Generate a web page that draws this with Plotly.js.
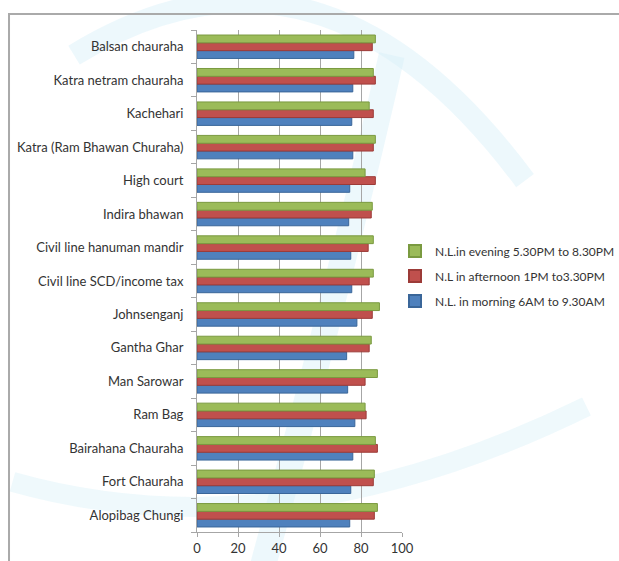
<!DOCTYPE html>
<html>
<head>
<meta charset="utf-8">
<script src="https://cdn.plot.ly/plotly-3.0.1.min.js"></script>
<style>html,body{margin:0;padding:0;background:#fff;}#chart{width:619px;height:561px;}</style>
</head>
<body>
<div id="chart"></div>
<script>
// Categories listed bottom to top
const categories = [
  "Alopibag Chungi", "Fort Chauraha", "Bairahana Chauraha", "Ram Bag", "Man Sarowar",
  "Gantha Ghar", "Johnsenganj", "Civil line SCD/income tax", "Civil line hanuman mandir",
  "Indira bhawan", "High court", "Katra (Ram Bhawan Churaha)", "Kachehari",
  "Katra netram chauraha", "Balsan chauraha"
];
const morning   = [74.5, 75, 76, 77, 73.5, 73, 78, 75.5, 75, 74, 74.5, 76, 75.5, 76, 76.5];
const afternoon = [86.5, 86, 88, 82.5, 82, 84, 85.5, 84, 83.5, 85, 87, 86, 86, 87, 85.5];
const evening   = [88, 86.5, 87, 82, 88, 85, 89, 86, 86, 85.5, 82, 87, 84, 86, 87];
const seriesNames = ["N.L. in morning 6AM to 9.30AM", "N.L in afternoon 1PM to3.30PM", "N.L.in evening 5.30PM to 8.30PM"];
const xTicks = [0, 20, 40, 60, 80, 100];

const colors = ["#4F81BD", "#C0504D", "#9BBB59"];
const lines = ["#3A6699", "#9C3B38", "#7A9A40"];
const vals = [morning, afternoon, evening];

const traces = vals.map((v, i) => ({
  type: "bar", orientation: "h",
  x: v, y: categories, name: seriesNames[i],
  legendgroup: "g" + i, legendrank: 3 - i,
  marker: {color: colors[i], line: {color: lines[i], width: 1}},
  hoverinfo: "x+y"
}));

const layout = {
  width: 619, height: 561,
  margin: {l: 197, r: 217, t: 30, b: 29, pad: 0, autoexpand: false},
  paper_bgcolor: "#ffffff", plot_bgcolor: "rgba(0,0,0,0)",
  font: {family: "Lato, 'Open Sans', sans-serif", size: 13, color: "#333"},
  barmode: "group", bargap: 0.3, bargroupgap: 0,
  xaxis: {
    range: [0, 100], tickvals: xTicks, ticktext: xTicks.map(String),
    showgrid: true, gridcolor: "#a6a6a6", gridwidth: 1,
    zeroline: false, showline: true, linecolor: "#a6a6a6", mirror: false,
    ticks: "outside", ticklen: 4, tickcolor: "#a6a6a6",
    tickfont: {size: 13, color: "#333"}, fixedrange: true, automargin: false
  },
  yaxis: {
    type: "category", tickson: "boundaries",
    showline: true, linecolor: "#a6a6a6", ticks: "outside", ticklen: 5, tickcolor: "#a6a6a6",
    showgrid: false, ticklabelstandoff: 10,
    tickfont: {size: 13, color: "#333"}, fixedrange: true, automargin: false
  },
  legend: {
    x: 0.966, xanchor: "left", y: 0.51, yanchor: "middle",
    traceorder: "grouped", bgcolor: "rgba(0,0,0,0)",
    font: {size: 12, color: "#333"}, itemwidth: 30, tracegroupgap: 6,
    itemsizing: "constant"
  },
  shapes: [
    {type: "path", xref: "paper", yref: "paper", layer: "below",
     path: "M -0.6 0.95 Q 0.6 1.25 1.6 0.7", line: {color: "rgba(215,240,248,0.45)", width: 22}},
    {type: "path", xref: "paper", yref: "paper", layer: "below",
     path: "M 0.3 -0.1 Q 0.7 0.5 0.95 0.95", line: {color: "rgba(215,240,248,0.45)", width: 26}},
    {type: "path", xref: "paper", yref: "paper", layer: "below",
     path: "M -0.9 0.1 Q 0.4 -0.05 1.9 0.25", line: {color: "rgba(215,240,248,0.4)", width: 20}},
    {type: "rect", xref: "paper", yref: "paper", x0: -0.917, x1: 2.2, y0: -0.2, y1: 1.032,
     line: {color: "#aaaaaa", width: 2}, fillcolor: "rgba(0,0,0,0)", layer: "below"}
  ]
};

Plotly.newPlot("chart", traces, layout, {displayModeBar: false, staticPlot: true});
</script>
</body>
</html>
